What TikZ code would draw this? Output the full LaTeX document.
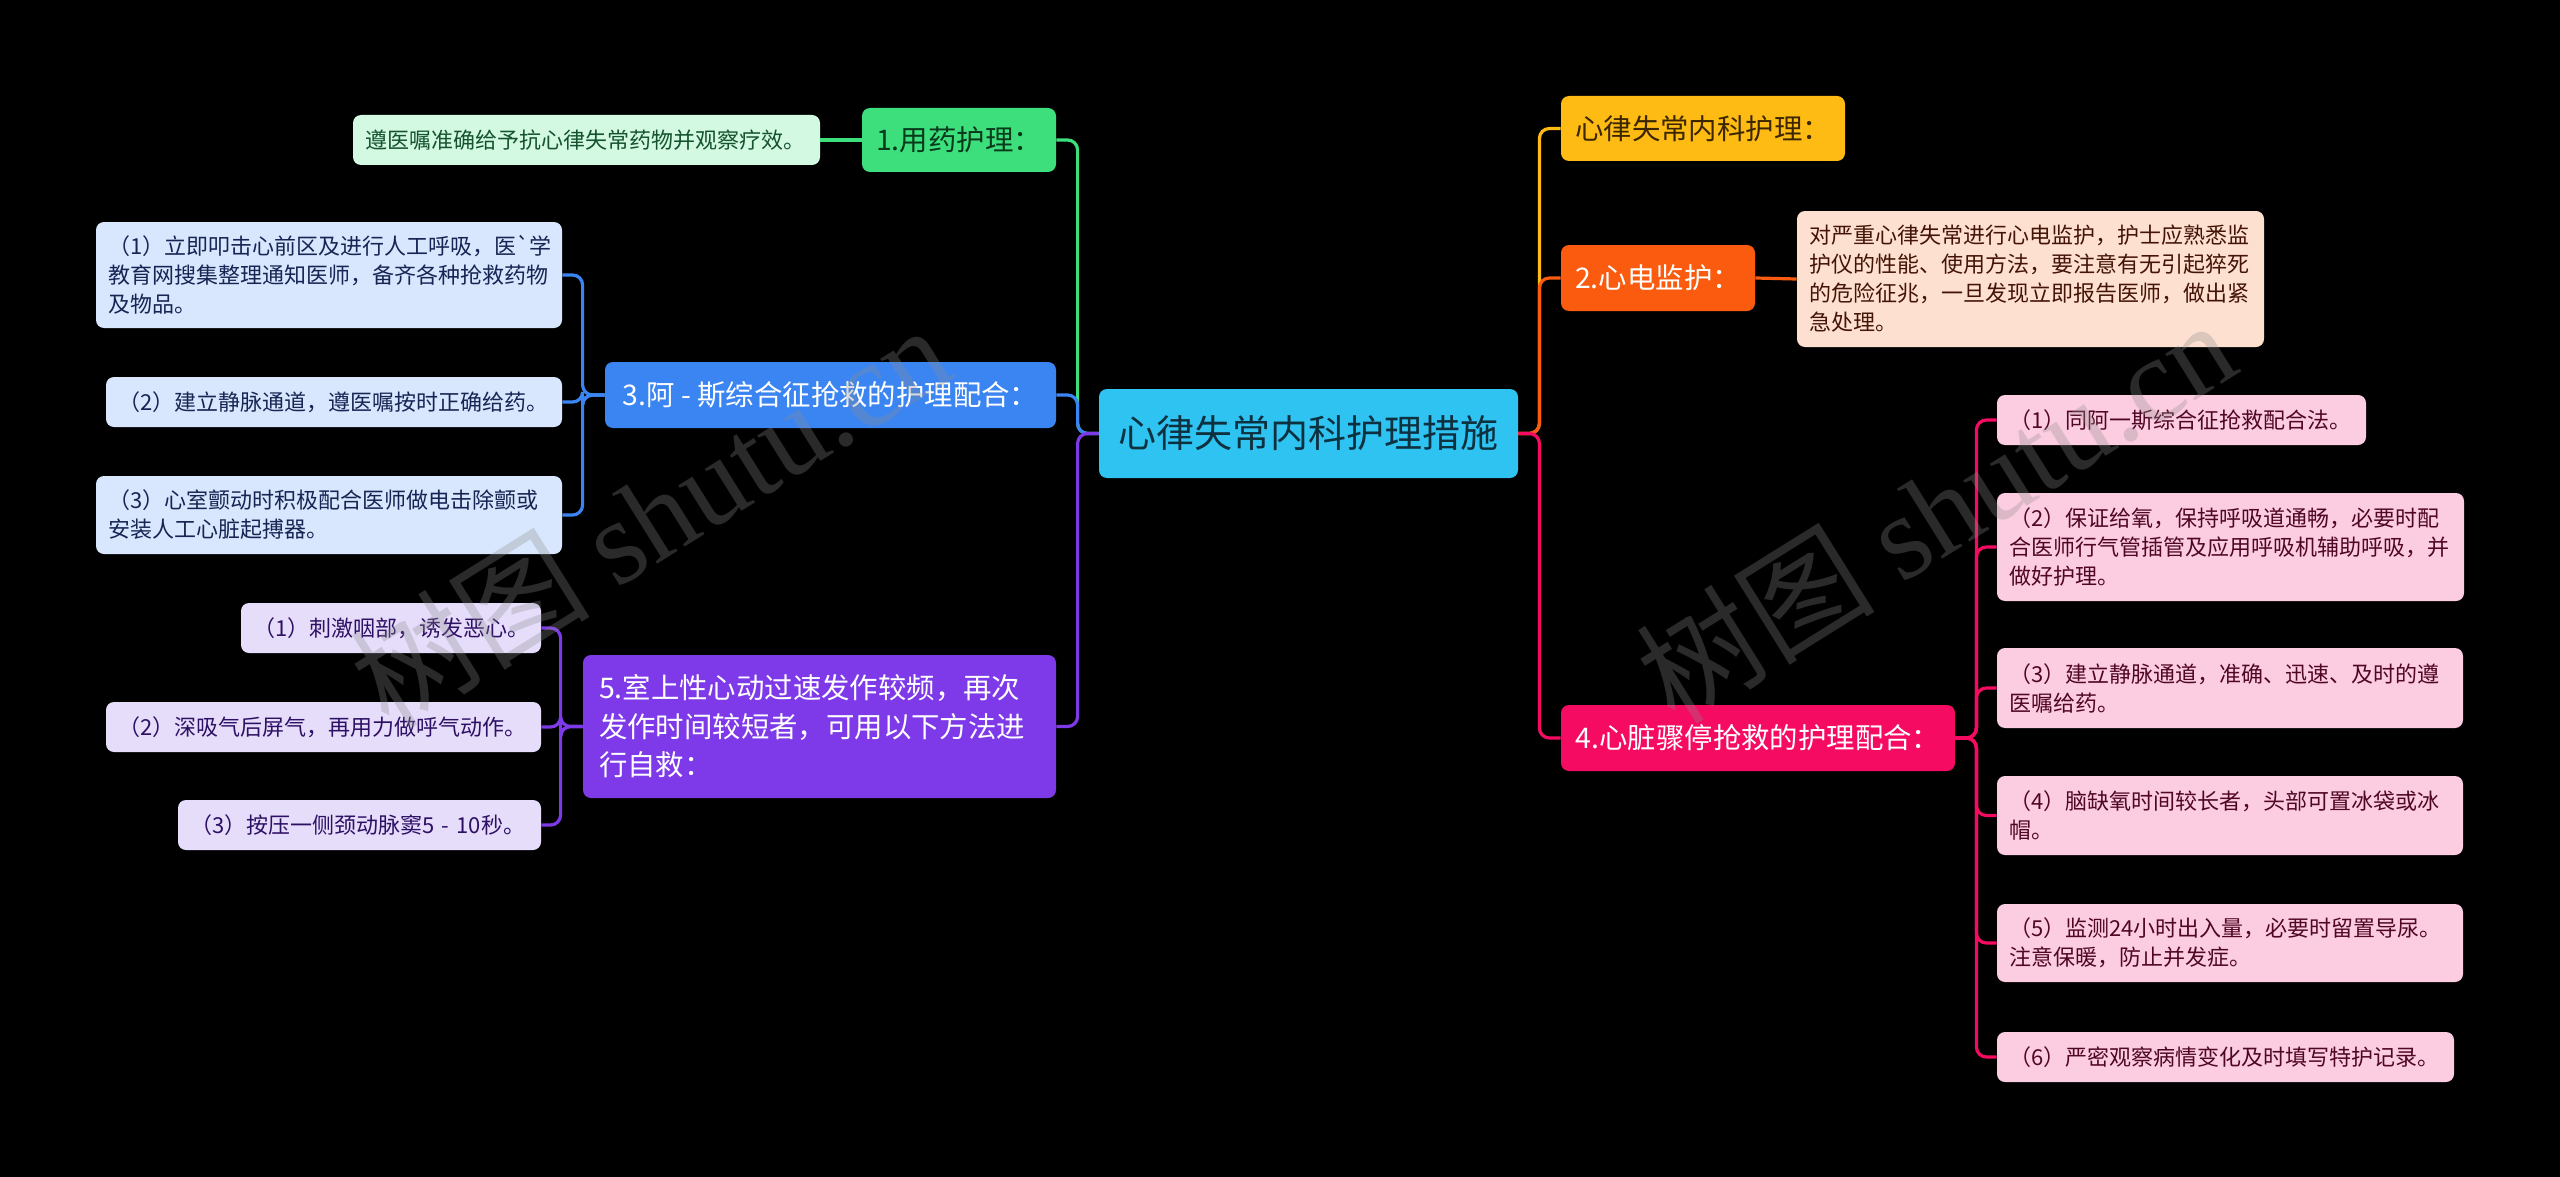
\documentclass[tikz,border=0pt]{standalone}
\usepackage{fontspec}
\setmainfont{Noto Sans CJK SC}[Ligatures=TeXOff]
\newfontfamily\wmlatin{Liberation Serif}
\definecolor{cC}{HTML}{2FC3F2}\definecolor{cCt}{HTML}{0E3140}
\definecolor{cG}{HTML}{3DDF7D}\definecolor{cGt}{HTML}{083A1B}
\definecolor{cGl}{HTML}{D3F9E3}\definecolor{cGlt}{HTML}{14532D}
\definecolor{cB}{HTML}{3B85F2}
\definecolor{cBl}{HTML}{D8E7FD}\definecolor{cBlt}{HTML}{172554}
\definecolor{cP}{HTML}{7E3AE9}
\definecolor{cPl}{HTML}{E6DDFB}\definecolor{cPlt}{HTML}{2E1065}
\definecolor{cY}{HTML}{FDBB14}\definecolor{cYt}{HTML}{3B2600}
\definecolor{cO}{HTML}{FA5B0F}
\definecolor{cOl}{HTML}{FEE0D0}\definecolor{cOlt}{HTML}{431407}
\definecolor{cR}{HTML}{F60B62}
\definecolor{cRl}{HTML}{FCCCE0}\definecolor{cRlt}{HTML}{500724}
\begin{document}
\begin{tikzpicture}[x=0.5pt,y=-0.5pt,
  box/.style={rounded corners=4pt, inner ysep=0pt, anchor=center},
  leaf/.style={box, inner xsep=6pt, align=left, font=\fontsize{11}{14.5}\selectfont},
  branch/.style={box, inner xsep=0pt, align=center, font=\fontsize{14.2}{19.3}\selectfont},
  conn/.style={line width=1.6pt, rounded corners=5pt},
  wm/.style={rotate=32, text=white!55!black, opacity=0.3, font=\fontsize{60}{60}\selectfont}
]
\fill[black] (0,0) rectangle (2560,1177);
\useasboundingbox (0,0) rectangle (2560,1177);

% central
\node[box, fill=cC, text=cCt, font=\fontsize{19}{22}\selectfont, minimum width=209.5pt, minimum height=44.5pt] (c) at (1308.5,433.5) {心律失常内科护理措施};

% left branches
\node[branch, fill=cG, text=cGt, minimum width=97pt, minimum height=32pt] (n1) at (959,140) {1.用药护理：};
\node[branch, fill=cB, text=white, minimum width=225.5pt, minimum height=33pt] (n3) at (830.5,395) {3.阿 - 斯综合征抢救的护理配合：};
\node[branch, fill=cP, text=white, align=left, text width=220.5pt, inner xsep=8pt, minimum height=71.5pt] (n5) at (819.5,726.5) {5.室上性心动过速发作较频，再次\\发作时间较短者，可用以下方法进\\行自救：};

% right branches
\node[branch, fill=cY, text=cYt, minimum width=142pt, minimum height=32.5pt] (r0) at (1703,128.5) {心律失常内科护理：};
\node[branch, fill=cO, text=white, minimum width=97pt, minimum height=33pt] (n2) at (1658,278) {2.心电监护：};
\node[branch, fill=cR, text=white, minimum width=197pt, minimum height=33pt] (n4) at (1758,738) {4.心脏骤停抢救的护理配合：};

% leaves
\node[leaf, fill=cGl, text=cGlt, text width=221.5pt, minimum height=25pt] (l1) at (586.5,140) {遵医嘱准确给予抗心律失常药物并观察疗效。};

\node[leaf, fill=cBl, text=cBlt, text width=221pt, minimum height=53pt] (l31) at (329,275) {（1）立即叩击心前区及进行人工呼吸，医`学\\教育网搜集整理通知医师，备齐各种抢救药物\\及物品。};
\node[leaf, fill=cBl, text=cBlt, text width=216pt, minimum height=25pt] (l32) at (334,402) {（2）建立静脉通道，遵医嘱按时正确给药。};
\node[leaf, fill=cBl, text=cBlt, text width=221pt, minimum height=39pt] (l33) at (329,515) {（3）心室颤动时积极配合医师做电击除颤或\\安装人工心脏起搏器。};

\node[leaf, fill=cPl, text=cPlt, text width=138pt, minimum height=25pt] (l51) at (391,628) {（1）刺激咽部，诱发恶心。};
\node[leaf, fill=cPl, text=cPlt, text width=205.5pt, minimum height=25pt] (l52) at (323.5,727) {（2）深吸气后屏气，再用力做呼气动作。};
\node[leaf, fill=cPl, text=cPlt, text width=169.5pt, minimum height=25pt] (l53) at (359.5,825) {（3）按压一侧颈动脉窦5 - 10秒。};

\node[leaf, fill=cOl, text=cOlt, text width=221.5pt, minimum height=68pt] (l2) at (2030.5,279) {对严重心律失常进行心电监护，护士应熟悉监\\护仪的性能、使用方法，要注意有无引起猝死\\的危险征兆，一旦发现立即报告医师，做出紧\\急处理。};

\node[leaf, fill=cRl, text=cRlt, text width=172.5pt, minimum height=25pt] (l41) at (2181.5,420) {（1）同阿一斯综合征抢救配合法。};
\node[leaf, fill=cRl, text=cRlt, text width=221.5pt, minimum height=54pt] (l42) at (2230.5,547) {（2）保证给氧，保持呼吸道通畅，必要时配\\合医师行气管插管及应用呼吸机辅助呼吸，并\\做好护理。};
\node[leaf, fill=cRl, text=cRlt, text width=221pt, minimum height=40pt] (l43) at (2230,688) {（3）建立静脉通道，准确、迅速、及时的遵\\医嘱给药。};
\node[leaf, fill=cRl, text=cRlt, text width=221pt, minimum height=39.5pt] (l44) at (2230,815.5) {（4）脑缺氧时间较长者，头部可置冰袋或冰\\帽。};
\node[leaf, fill=cRl, text=cRlt, text width=221pt, minimum height=39pt] (l45) at (2230,943) {（5）监测24小时出入量，必要时留置导尿。\\注意保暖，防止并发症。};
\node[leaf, fill=cRl, text=cRlt, text width=216.5pt, minimum height=25pt] (l46) at (2225.5,1057) {（6）严密观察病情变化及时填写特护记录。};

% connectors: central to branches
\draw[conn, cG] (c.west) -- ++(-21,0) |- (n1.east);
\draw[conn, cB] (c.west) -- ++(-21,0) |- (n3.east);
\draw[conn, cP] (c.west) -- ++(-21,0) |- (n5.east);
\draw[conn, cY] (c.east) -- ++(21,0) |- (r0.west);
\draw[conn, cO] (c.east) -- ++(21,0) |- (n2.west);
\draw[conn, cR] (c.east) -- ++(21,0) |- (n4.west);

% branches to leaves
\draw[conn, cG] (n1.west) -- (l1.east);
\draw[conn, cO] (n2.east) -- (l2.west);
\foreach \l in {l31,l32,l33} \draw[conn, cB] (n3.west) -- ++(-22,0) |- (\l.east);
\foreach \l in {l51,l52,l53} \draw[conn, cP] (n5.west) -- ++(-22,0) |- (\l.east);
\foreach \l in {l41,l42,l43,l44,l45,l46} \draw[conn, cR] (n4.east) -- ++(21,0) |- (\l.west);

% watermarks
\node[wm] (wm1) at (650,515) {树图 {\wmlatin shutu.cn}};
\node[wm] (wm2) at (1935,510) {树图 {\wmlatin shutu.cn}};
\end{tikzpicture}
\end{document}
